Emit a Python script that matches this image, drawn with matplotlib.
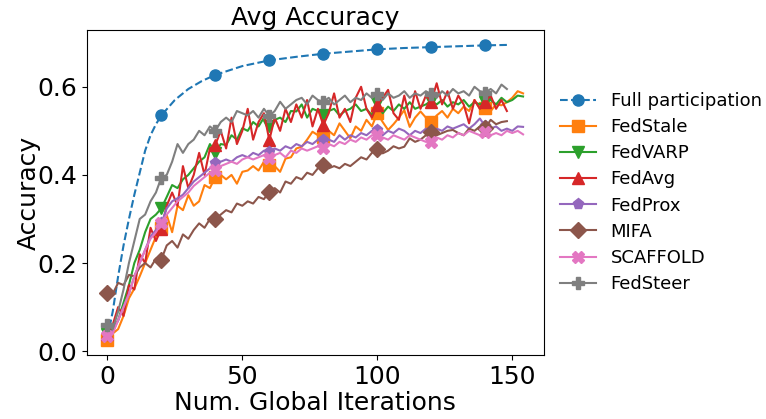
import numpy as np
import matplotlib
matplotlib.use("Agg")
import matplotlib.pyplot as plt


# --------------------------------------------------
# Data
# --------------------------------------------------

full_x = [0, 2, 4, 6, 8, 10, 12, 14, 16, 18, 20, 25, 30, 35, 40, 50, 60,
          70, 80, 90, 100, 110, 120, 130, 140, 148]
full_y = [0.03, 0.09, 0.17, 0.24, 0.30, 0.355, 0.405, 0.455, 0.49, 0.515,
          0.535, 0.57, 0.595, 0.613, 0.627, 0.647, 0.66, 0.668, 0.675, 0.68,
          0.685, 0.688, 0.69, 0.692, 0.694, 0.695]

# the remaining curves are sampled every 2 global iterations
fedstale = [0.025, 0.04, 0.05, 0.08, 0.12, 0.142, 0.17, 0.2, 0.23, 0.26,
            0.28, 0.309, 0.27, 0.33, 0.32, 0.354, 0.33, 0.34, 0.377, 0.37,
            0.396, 0.40, 0.39, 0.40, 0.38, 0.407, 0.41, 0.42, 0.41, 0.43,
            0.422, 0.42, 0.407, 0.437, 0.44, 0.46, 0.464, 0.48, 0.498, 0.49,
            0.485, 0.50, 0.49, 0.517, 0.50, 0.483, 0.51, 0.50, 0.525, 0.51,
            0.54, 0.52, 0.502, 0.515, 0.53, 0.547, 0.509, 0.53, 0.544, 0.53,
            0.52, 0.535, 0.545, 0.53, 0.55, 0.54, 0.555, 0.545, 0.57, 0.55,
            0.551, 0.545, 0.56, 0.558, 0.565, 0.575, 0.59, 0.585]

fedvarp = [0.04, 0.05, 0.07, 0.11, 0.15, 0.2, 0.23, 0.27, 0.3, 0.31,
           0.324, 0.35, 0.377, 0.37, 0.39, 0.40, 0.415, 0.43, 0.44, 0.47,
           0.45, 0.47, 0.468, 0.49, 0.48, 0.506, 0.50, 0.52, 0.51, 0.53,
           0.51, 0.525, 0.53, 0.52, 0.545, 0.544, 0.56, 0.53, 0.55, 0.545,
           0.536, 0.545, 0.55, 0.535, 0.545, 0.55, 0.56, 0.545, 0.55, 0.535,
           0.5625, 0.54, 0.555, 0.545, 0.56, 0.55, 0.565, 0.55, 0.555, 0.56,
           0.568, 0.56, 0.57, 0.555, 0.565, 0.56, 0.57, 0.555, 0.565, 0.56,
           0.566, 0.57, 0.56, 0.575, 0.565, 0.57, 0.58, 0.578]

fedavg = [0.04, 0.06, 0.1, 0.08, 0.15, 0.14, 0.22, 0.2, 0.28, 0.25,
          0.278, 0.33, 0.36, 0.33, 0.42, 0.37, 0.40, 0.45, 0.40, 0.46,
          0.468, 0.50, 0.46, 0.53, 0.47, 0.50, 0.55, 0.48, 0.52, 0.54,
          0.479, 0.53, 0.50, 0.55, 0.52, 0.56, 0.53, 0.57, 0.51, 0.55,
          0.513, 0.54, 0.585, 0.53, 0.55, 0.52, 0.575, 0.60, 0.55, 0.53,
          0.559, 0.575, 0.593, 0.54, 0.525, 0.58, 0.53, 0.59, 0.55, 0.58,
          0.566, 0.608, 0.56, 0.59, 0.55, 0.58, 0.56, 0.517, 0.57, 0.55,
          0.566, 0.58, 0.55, 0.57, 0.545]

fedprox = [0.04, 0.045, 0.07, 0.1, 0.13, 0.17, 0.2, 0.23, 0.26, 0.275,
           0.29, 0.324, 0.34, 0.347, 0.355, 0.37, 0.385, 0.395, 0.405, 0.415,
           0.426, 0.43, 0.435, 0.43, 0.44, 0.445, 0.44, 0.45, 0.445, 0.455,
           0.453, 0.46, 0.455, 0.465, 0.46, 0.47, 0.465, 0.475, 0.47, 0.48,
           0.479, 0.48, 0.475, 0.49, 0.48, 0.49, 0.485, 0.495, 0.49, 0.50,
           0.502, 0.49, 0.50, 0.495, 0.505, 0.50, 0.49, 0.50, 0.495, 0.505,
           0.498, 0.505, 0.50, 0.51, 0.505, 0.51, 0.515, 0.505, 0.515, 0.528,
           0.51, 0.505, 0.51, 0.50, 0.505, 0.50, 0.51, 0.509]

mifa = [0.132, 0.13, 0.155, 0.15, 0.173, 0.17, 0.19, 0.2, 0.19, 0.21,
        0.208, 0.24, 0.25, 0.235, 0.265, 0.255, 0.275, 0.29, 0.28, 0.30,
        0.299, 0.31, 0.32, 0.315, 0.335, 0.33, 0.34, 0.335, 0.35, 0.345,
        0.362, 0.37, 0.36, 0.385, 0.38, 0.395, 0.39, 0.405, 0.40, 0.415,
        0.422, 0.415, 0.42, 0.415, 0.425, 0.42, 0.43, 0.44, 0.435, 0.45,
        0.459, 0.449, 0.455, 0.465, 0.46, 0.464, 0.483, 0.475, 0.48, 0.49,
        0.498, 0.49, 0.495, 0.50, 0.502, 0.495, 0.49, 0.505, 0.50, 0.51,
        0.506, 0.525, 0.515, 0.52, 0.522]

scaffold = [0.035, 0.04, 0.07, 0.1, 0.13, 0.17, 0.2, 0.23, 0.255, 0.27,
            0.29, 0.31, 0.325, 0.34, 0.35, 0.36, 0.375, 0.385, 0.395, 0.405,
            0.411, 0.42, 0.425, 0.43, 0.425, 0.435, 0.44, 0.435, 0.44, 0.445,
            0.4375, 0.445, 0.45, 0.44, 0.455, 0.45, 0.46, 0.455, 0.46, 0.465,
            0.46, 0.47, 0.465, 0.475, 0.47, 0.48, 0.475, 0.485, 0.48, 0.49,
            0.49, 0.485, 0.48, 0.49, 0.485, 0.48, 0.49, 0.485, 0.48, 0.475,
            0.475, 0.485, 0.48, 0.49, 0.485, 0.495, 0.49, 0.50, 0.495, 0.49,
            0.498, 0.49, 0.495, 0.49, 0.50, 0.495, 0.5, 0.492]

fedsteer = [0.059, 0.05, 0.09, 0.14, 0.2, 0.25, 0.3, 0.31, 0.34, 0.36,
            0.394, 0.40, 0.43, 0.47, 0.45, 0.47, 0.48, 0.50, 0.49, 0.51,
            0.50, 0.52, 0.53, 0.52, 0.545, 0.54, 0.535, 0.545, 0.53, 0.55,
            0.534, 0.545, 0.566, 0.55, 0.56, 0.57, 0.575, 0.56, 0.58, 0.57,
            0.566, 0.575, 0.56, 0.57, 0.58, 0.565, 0.575, 0.57, 0.585, 0.575,
            0.583, 0.57, 0.585, 0.575, 0.58, 0.59, 0.575, 0.585, 0.58, 0.59,
            0.583, 0.575, 0.59, 0.58, 0.595, 0.585, 0.59, 0.58, 0.60, 0.59,
            0.587, 0.595, 0.585, 0.605, 0.595]

series = [
    ("FedStale", fedstale, "s"),
    ("FedVARP", fedvarp, "v"),
    ("FedAvg", fedavg, "^"),
    ("FedProx", fedprox, "p"),
    ("MIFA", mifa, "D"),
    ("SCAFFOLD", scaffold, "X"),
    ("FedSteer", fedsteer, "P"),
]


# --------------------------------------------------
# Plot
# --------------------------------------------------

fig = plt.figure(figsize=(7.66, 4.19), dpi=100)
ax = fig.add_axes([0.113, 0.153, 0.597, 0.775])

marks = [i for i, v in enumerate(full_x) if v % 20 == 0]
ax.plot(full_x, full_y, "--o", color="C0", markevery=marks, markersize=8,
        lw=1.5, label="Full participation")

for k, (name, vals, mk) in enumerate(series):
    xs = np.arange(len(vals)) * 2
    marks = [i for i, v in enumerate(xs) if v % 20 == 0]
    ax.plot(xs, vals, marker=mk, color=f"C{k + 1}", markevery=marks,
            markersize=8, lw=1.5, label=name)

ax.set_title("Avg Accuracy", fontsize=18, pad=4)
ax.set_xlabel("Num. Global Iterations", fontsize=18, labelpad=2)
ax.set_ylabel("Accuracy", fontsize=18)
ax.yaxis.set_label_coords(-0.10, 0.5)
ax.tick_params(labelsize=18)
ax.set_xticks([0, 50, 100, 150])
ax.set_yticks([0.0, 0.2, 0.4, 0.6])

ax.legend(loc="center left", bbox_to_anchor=(1.0, 0.5), frameon=False,
          fontsize=13, labelspacing=0.45)

fig.savefig("out.png", dpi=100)
